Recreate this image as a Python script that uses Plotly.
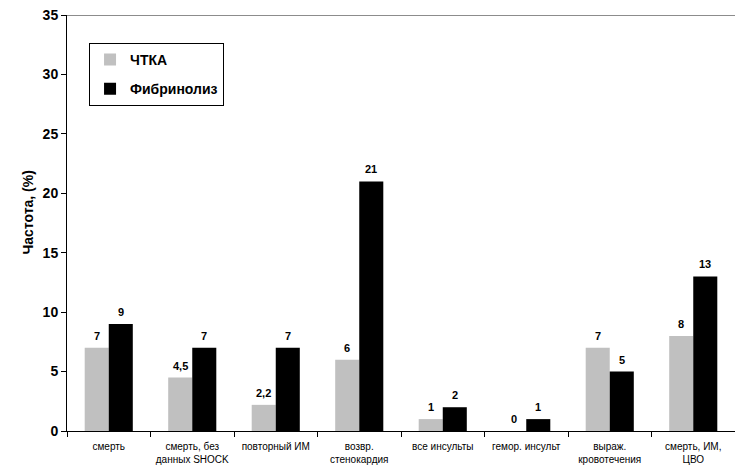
import plotly.graph_objects as go

# Outcome categories (x axis)
categories = [
    "смерть",
    "смерть, без<br>данных SHOCK",
    "повторный ИМ",
    "возвр.<br>стенокардия",
    "все инсульты",
    "гемор. инсульт",
    "выраж.<br>кровотечения",
    "смерть, ИМ,<br>ЦВО",
]

# Event rates, %
ptca = [7, 4.5, 2.2, 6, 1, 0, 7, 8]
fibrinolysis = [9, 7, 7, 21, 2, 1, 5, 13]

y_ticks = [0, 5, 10, 15, 20, 25, 30, 35]

FONT = "Liberation Sans, Arial, sans-serif"


def fmt(v):
    return f"{v:g}".replace(".", ",")


fig = go.Figure()
fig.add_trace(go.Bar(
    name="ЧТКА", x=categories, y=ptca,
    marker=dict(color="#c0c0c0", line=dict(width=0)),
    legendgroup="a",
))
fig.add_trace(go.Bar(
    name="Фибринолиз", x=categories, y=fibrinolysis,
    marker=dict(color="#000000", line=dict(width=0)),
    legendgroup="b",
))

# Value labels above each bar
annotations = []
for series, shift in ((ptca, -12), (fibrinolysis, 12)):
    for cat, v in zip(categories, series):
        annotations.append(dict(
            x=cat, y=v, xref="x", yref="y", text=fmt(v),
            showarrow=False, xshift=shift, yshift=4, yanchor="bottom",
            font=dict(family=FONT, size=11, color="#000000", weight="bold"),
        ))

# Y axis title
annotations.append(dict(
    text="Частота, (%)", xref="paper", yref="paper", x=0, y=0.525,
    xshift=-49, textangle=-90, showarrow=False,
    font=dict(family=FONT, size=14, color="#000000", weight="bold"),
))

fig.update_layout(
    width=735, height=466,
    margin=dict(l=67, r=0, t=15, b=35),
    paper_bgcolor="white", plot_bgcolor="white",
    barmode="group", bargap=0.424, bargroupgap=0,
    font=dict(family=FONT, color="#000000"),
    annotations=annotations,
    legend=dict(
        x=0.033, y=0.933, xanchor="left", yanchor="top",
        bordercolor="#000000", borderwidth=1, bgcolor="white",
        font=dict(family=FONT, size=14, weight="bold"),
        tracegroupgap=8, traceorder="grouped",
    ),
    shapes=[dict(
        type="line", xref="paper", yref="y", x0=0, x1=1, y0=35, y1=35,
        line=dict(color="#8c8c8c", width=2),
    )],
)

fig.update_xaxes(
    showline=True, linecolor="#000000", linewidth=1,
    ticks="outside", tickson="boundaries", ticklen=5, tickcolor="#000000",
    tickfont=dict(family=FONT, size=10), tickangle=0, ticklabelstandoff=6,
    automargin=False, showgrid=False,
)
fig.update_yaxes(
    range=[0, 35], tickvals=y_ticks,
    showline=True, linecolor="#000000", linewidth=1,
    ticks="outside", ticklen=5, tickcolor="#000000",
    tickfont=dict(family=FONT, size=14, weight="bold"),
    showgrid=False, zeroline=False, automargin=False,
)

fig.write_html("out.html")
